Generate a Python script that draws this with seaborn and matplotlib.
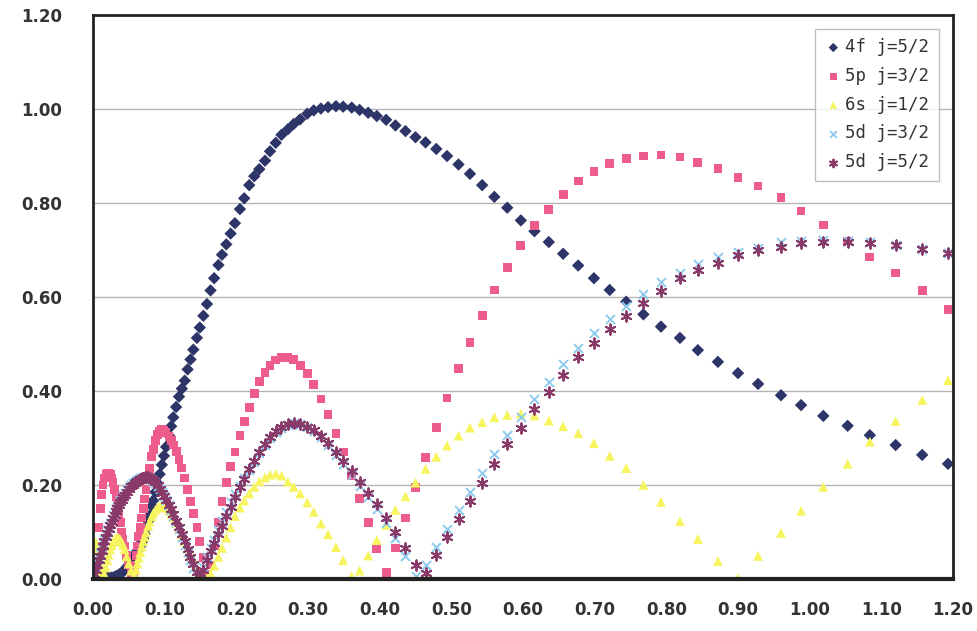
import matplotlib
matplotlib.use("Agg")
import matplotlib.pyplot as plt
import seaborn as sb
import pandas as pd

# shared x grid (log-spaced radial grid, thinned where markers overlap)
x_vals = [0.002, 0.004, 0.006, 0.008, 0.010, 0.012, 0.014, 0.016, 0.018, 0.020,
          0.022, 0.024, 0.026, 0.028, 0.030, 0.032, 0.034, 0.036, 0.038, 0.040,
          0.042, 0.044, 0.047, 0.050, 0.053, 0.056, 0.058, 0.060, 0.062, 0.064,
          0.066, 0.068, 0.070, 0.072, 0.074, 0.077, 0.079, 0.082, 0.084, 0.087,
          0.090, 0.093, 0.096, 0.099, 0.102, 0.106, 0.109, 0.112, 0.116, 0.120,
          0.124, 0.128, 0.132, 0.136, 0.140, 0.145, 0.149, 0.154, 0.159, 0.164,
          0.169, 0.175, 0.180, 0.186, 0.192, 0.198, 0.205, 0.211, 0.218, 0.225,
          0.232, 0.240, 0.247, 0.255, 0.263, 0.272, 0.280, 0.289, 0.299, 0.308,
          0.318, 0.328, 0.339, 0.349, 0.361, 0.372, 0.384, 0.396, 0.409, 0.422,
          0.436, 0.450, 0.464, 0.479, 0.494, 0.510, 0.526, 0.543, 0.560, 0.578,
          0.597, 0.616, 0.636, 0.656, 0.677, 0.699, 0.721, 0.744, 0.768, 0.7925,
          0.819, 0.844, 0.872, 0.900, 0.928, 0.960, 0.988, 1.019, 1.053, 1.084,
          1.120, 1.157, 1.193]

y_4f = [0, 0, 0, 0, 0, 0, 0, 0.001, 0.001, 0.002,
        0.002, 0.002, 0.003, 0.003, 0.004, 0.006, 0.007, 0.009, 0.011, 0.013,
        0.016, 0.019, 0.025, 0.031, 0.038, 0.045, 0.05, 0.055, 0.06, 0.065,
        0.07, 0.078, 0.086, 0.096, 0.107, 0.123, 0.135, 0.155, 0.167, 0.185,
        0.204, 0.223, 0.243, 0.262, 0.281, 0.305, 0.325, 0.344, 0.366, 0.388,
        0.405, 0.422, 0.446, 0.467, 0.488, 0.513, 0.535, 0.56, 0.585, 0.614,
        0.64, 0.668, 0.69, 0.712, 0.735, 0.757, 0.787, 0.81, 0.838, 0.857,
        0.872, 0.89, 0.91, 0.928, 0.945, 0.957, 0.968, 0.978, 0.99, 0.997,
        1.001, 1.004, 1.006, 1.005, 1.003, 0.998, 0.992, 0.985, 0.977, 0.965,
        0.953, 0.94, 0.929, 0.915, 0.9, 0.882, 0.862, 0.838, 0.813, 0.79,
        0.763, 0.74, 0.717, 0.692, 0.667, 0.64, 0.615, 0.59, 0.563, 0.537,
        0.513, 0.487, 0.462, 0.438, 0.415, 0.391, 0.37, 0.347, 0.326, 0.306,
        0.285, 0.264, 0.245]

y_5p = [0.01, 0.03, 0.07, 0.11, 0.15, 0.18, 0.20, 0.215, 0.222, 0.225,
        0.225, 0.222, 0.215, 0.205, 0.19, 0.175, 0.16, 0.14, 0.12, 0.10,
        0.085, 0.07, 0.05, 0.03, 0.012, 0.01, 0.03, 0.05, 0.07, 0.09,
        0.11, 0.13, 0.15, 0.17, 0.19, 0.215, 0.235, 0.26, 0.275, 0.295,
        0.307, 0.315, 0.318, 0.317, 0.312, 0.303, 0.295, 0.285, 0.272, 0.255,
        0.236, 0.215, 0.19, 0.165, 0.14, 0.11, 0.08, 0.045, 0.01, 0.03,
        0.07, 0.12, 0.165, 0.205, 0.24, 0.27, 0.305, 0.335, 0.365, 0.395,
        0.42, 0.44, 0.455, 0.466, 0.472, 0.472, 0.467, 0.455, 0.438, 0.413,
        0.383, 0.35, 0.31, 0.27, 0.22, 0.172, 0.12, 0.064, 0.013, 0.066,
        0.13, 0.194, 0.258, 0.322, 0.385, 0.448, 0.503, 0.56, 0.615, 0.663,
        0.71, 0.752, 0.787, 0.818, 0.847, 0.867, 0.884, 0.894, 0.90, 0.902,
        0.898, 0.887, 0.874, 0.855, 0.836, 0.811, 0.783, 0.753, 0.719, 0.685,
        0.651, 0.613, 0.574]

y_6s = [0.06, 0.078, 0.07, 0.05, 0.03, 0.015, 0.003, 0.01, 0.025, 0.04,
        0.052, 0.063, 0.072, 0.079, 0.084, 0.087, 0.088, 0.087, 0.084, 0.079,
        0.072, 0.063, 0.048, 0.033, 0.018, 0.004, 0.008, 0.02, 0.033, 0.045,
        0.057, 0.069, 0.08, 0.09, 0.10, 0.113, 0.122, 0.133, 0.14, 0.147,
        0.152, 0.155, 0.156, 0.155, 0.152, 0.146, 0.139, 0.131, 0.12, 0.107,
        0.094, 0.08, 0.066, 0.053, 0.04, 0.026, 0.016, 0.006, 0.002, 0.012,
        0.028, 0.047, 0.066, 0.088, 0.11, 0.134, 0.152, 0.167, 0.182, 0.196,
        0.208, 0.216, 0.222, 0.224, 0.22, 0.207, 0.196, 0.182, 0.163, 0.143,
        0.118, 0.095, 0.068, 0.04, 0.006, 0.018, 0.05, 0.083, 0.115, 0.147,
        0.176, 0.205, 0.234, 0.26, 0.284, 0.305, 0.322, 0.334, 0.344, 0.349,
        0.352, 0.348, 0.337, 0.325, 0.31, 0.289, 0.262, 0.236, 0.2, 0.164,
        0.123, 0.085, 0.038, 0.002, 0.049, 0.098, 0.145, 0.196, 0.245, 0.292,
        0.336, 0.381, 0.423]

y_5d32 = [0.012, 0.023, 0.034, 0.045, 0.056, 0.066, 0.076, 0.086, 0.095, 0.104,
          0.112, 0.12, 0.128, 0.136, 0.143, 0.15, 0.156, 0.162, 0.168, 0.173,
          0.178, 0.183, 0.19, 0.195, 0.2, 0.204, 0.207, 0.209, 0.211, 0.213,
          0.214, 0.215, 0.216, 0.216, 0.216, 0.215, 0.213, 0.211, 0.208, 0.204,
          0.198, 0.192, 0.185, 0.177, 0.168, 0.157, 0.147, 0.135, 0.121, 0.106,
          0.09, 0.073, 0.057, 0.04, 0.024, 0.008, 0.006, 0.026, 0.046, 0.066,
          0.084, 0.105, 0.123, 0.143, 0.163, 0.18, 0.197, 0.214, 0.232, 0.25,
          0.268, 0.286, 0.3, 0.312, 0.321, 0.328, 0.331, 0.329, 0.323, 0.314,
          0.302, 0.286, 0.264, 0.244, 0.221, 0.198, 0.175, 0.15, 0.119, 0.087,
          0.05, 0.006, 0.03, 0.068, 0.107, 0.146, 0.186, 0.226, 0.266, 0.307,
          0.344, 0.383, 0.42, 0.457, 0.492, 0.523, 0.553, 0.58, 0.606, 0.632,
          0.652, 0.671, 0.685, 0.696, 0.705, 0.717, 0.72, 0.721, 0.72, 0.716,
          0.711, 0.702, 0.694]

y_5d52 = [0.01, 0.02, 0.03, 0.04, 0.05, 0.06, 0.07, 0.08, 0.09, 0.098,
          0.106, 0.114, 0.122, 0.13, 0.137, 0.144, 0.151, 0.157, 0.163, 0.169,
          0.174, 0.179, 0.186, 0.192, 0.197, 0.201, 0.204, 0.207, 0.209, 0.211,
          0.213, 0.214, 0.215, 0.216, 0.216, 0.216, 0.215, 0.213, 0.211, 0.207,
          0.2, 0.192, 0.184, 0.176, 0.168, 0.158, 0.148, 0.138, 0.124, 0.11,
          0.096, 0.08, 0.064, 0.047, 0.031, 0.014, 0.003, 0.02, 0.04, 0.06,
          0.076, 0.096, 0.113, 0.134, 0.154, 0.174, 0.195, 0.213, 0.234, 0.252,
          0.27, 0.288, 0.303, 0.315, 0.323, 0.329, 0.331, 0.329, 0.324, 0.316,
          0.305, 0.29, 0.27, 0.251, 0.229, 0.206, 0.184, 0.16, 0.13, 0.1,
          0.066, 0.03, 0.012, 0.051, 0.089, 0.127, 0.166, 0.204, 0.244, 0.287,
          0.322, 0.362, 0.398, 0.435, 0.472, 0.503, 0.532, 0.56, 0.587, 0.613,
          0.64, 0.657, 0.672, 0.689, 0.70, 0.707, 0.715, 0.717, 0.717, 0.715,
          0.711, 0.702, 0.694]

labels = ["4f j=5/2", "5p j=3/2", "6s j=1/2", "5d j=3/2", "5d j=5/2"]
series = [y_4f, y_5p, y_6s, y_5d32, y_5d52]
colors = ["#2d3467", "#ee5c8c", "#f6f560", "#8ccaf0", "#8a3a68"]
markers = ["D", "s", "^", "x", (6, 2, 0)]
sizes = [40, 40, 50, 42, 55]

sb.set_style("white")

fig = plt.figure(figsize=(9.78, 6.31), dpi=100)
ax = fig.add_axes([93/978, 1 - 579/631, 860/978, 564/631])

for lab, ys, col, mk, sz in zip(labels, series, colors, markers, sizes):
    df = pd.DataFrame({"x": x_vals, "y": ys})
    if mk == "x" or isinstance(mk, tuple):
        sb.scatterplot(data=df, x="x", y="y", marker=mk, s=sz, color=col,
                       linewidth=1.4, ax=ax, label=lab)
    else:
        sb.scatterplot(data=df, x="x", y="y", marker=mk, s=sz, color=col,
                       edgecolor="none", linewidth=0, ax=ax, label=lab)

ax.set_xlim(0, 1.2)
ax.set_ylim(0, 1.2)
ax.set_xticks([i / 10 for i in range(13)])
ax.set_yticks([i / 5 for i in range(7)])
ax.set_xticklabels(["{:.2f}".format(i / 10) for i in range(13)])
ax.set_yticklabels(["{:.2f}".format(i / 5) for i in range(7)])
ax.tick_params(length=0, labelsize=12, labelcolor="#333333")
ax.tick_params(axis="x", pad=16)
ax.tick_params(axis="y", pad=22)
for t in ax.get_xticklabels() + ax.get_yticklabels():
    t.set_fontweight("bold")
ax.set_xlabel("")
ax.set_ylabel("")

ax.yaxis.grid(True, color="#b5b5b5", linewidth=1)
ax.xaxis.grid(False)
ax.set_axisbelow(True)
for side in ["left", "right", "top"]:
    ax.spines[side].set_color("#222222")
    ax.spines[side].set_linewidth(2)
ax.spines["bottom"].set_color("#222222")
ax.spines["bottom"].set_linewidth(3)

leg = ax.legend(loc="upper right", bbox_to_anchor=(0.9837, 0.976), borderaxespad=0,
                frameon=True, fancybox=False, edgecolor="#b0b0b0",
                prop={"family": ["DejaVu Sans Mono"], "size": 12.5},
                handletextpad=0.2, labelspacing=0.62, borderpad=0.55,
                handlelength=1.0, markerscale=0.75)
leg.get_frame().set_linewidth(1)
for txt in leg.get_texts():
    txt.set_color("#333333")

fig.savefig("out.png", dpi=100)
